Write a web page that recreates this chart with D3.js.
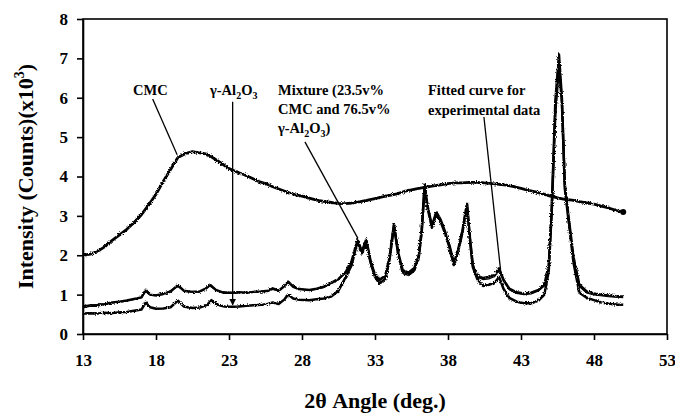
<!DOCTYPE html>
<html>
<head>
<meta charset="utf-8">
<script src="https://cdn.jsdelivr.net/npm/d3@7"></script>
<style>
  body { margin: 0; background: #fff; }
  text { font-family: "Liberation Serif", "Times New Roman", serif; font-weight: bold; fill: #000; }
  .axis path, .axis line { stroke: #000; stroke-width: 1.6; }
  .axis text { font-size: 17px; }
</style>
</head>
<body>
<div id="chart"></div>
<script>
// x axis ticks
const xTicks = [13, 18, 23, 28, 33, 38, 43, 48, 53];
const yTicks = [0, 1, 2, 3, 4, 5, 6, 7, 8];

// CMC (amorphous hump)
const cmcAngle = [13, 13.5, 14, 14.5, 15, 15.5, 16, 16.5, 17, 17.5, 18, 18.5, 19, 19.5, 20, 20.5, 21, 21.5, 22, 22.5,
  23, 23.5, 24, 24.5, 25, 25.5, 26, 26.5, 27, 27.5, 28, 28.5, 29, 29.5, 30, 30.5, 31, 31.5, 32, 32.5,
  33, 33.5, 34, 34.5, 35, 35.5, 36, 36.5, 37, 37.5, 38, 38.5, 39, 39.5, 40, 40.5, 41, 41.5, 42, 42.5,
  43, 43.5, 44, 44.5, 45, 45.5, 46, 46.5, 47, 47.5, 48, 48.5, 49, 49.5, 50];
const cmcValue = [2.00, 2.03, 2.10, 2.22, 2.38, 2.52, 2.66, 2.83, 3.03, 3.28, 3.55, 3.88, 4.18, 4.48, 4.58, 4.63, 4.60, 4.57, 4.45, 4.33,
  4.20, 4.12, 4.05, 3.97, 3.88, 3.82, 3.74, 3.67, 3.60, 3.54, 3.50, 3.45, 3.40, 3.37, 3.34, 3.32, 3.31, 3.33, 3.36, 3.40,
  3.44, 3.48, 3.52, 3.56, 3.62, 3.66, 3.70, 3.73, 3.76, 3.79, 3.82, 3.84, 3.84, 3.85, 3.85, 3.84, 3.82, 3.80, 3.78, 3.74,
  3.70, 3.65, 3.61, 3.56, 3.50, 3.46, 3.42, 3.40, 3.36, 3.33, 3.30, 3.25, 3.20, 3.14, 3.10];

// gamma-Al2O3 (lower curve)
const gammaAngle = [13, 13.5, 14, 14.5, 15, 15.5, 16, 16.5, 17, 17.3, 17.6, 18, 18.5, 19, 19.5, 19.9, 20.5, 21, 21.5, 21.8,
  22.2, 22.7, 23.2, 23.7, 24.2, 24.7, 25.2, 25.7, 26, 26.4, 26.8, 27.05, 27.4, 27.8, 28.5, 29, 29.5, 30, 30.5, 31,
  31.4, 31.8, 32.1, 32.4, 32.7, 33, 33.3, 33.7, 34, 34.3, 34.6, 34.9, 35.3, 35.7, 36, 36.2, 36.4, 36.6, 36.9, 37.2,
  37.5, 37.8, 38.1, 38.4, 38.7, 39, 39.3, 39.5, 39.7, 40, 40.4, 40.8, 41.2, 41.5, 41.8, 42.2, 42.7, 43.2, 43.7, 44.2,
  44.6, 44.9, 45.1, 45.35, 45.6, 45.8, 46, 46.25, 46.6, 47, 47.5, 48, 48.5, 49, 49.5, 50];
const gammaValue = [0.52, 0.53, 0.52, 0.54, 0.53, 0.55, 0.56, 0.59, 0.62, 0.80, 0.68, 0.64, 0.65, 0.68, 0.85, 0.70, 0.66, 0.67, 0.74, 0.86,
  0.74, 0.70, 0.69, 0.70, 0.72, 0.73, 0.74, 0.77, 0.80, 0.76, 0.88, 1.00, 0.90, 0.87, 0.86, 0.88, 0.90, 0.95, 1.10, 1.45,
  1.75, 2.35, 2.05, 2.35, 1.80, 1.45, 1.28, 1.40, 1.90, 2.75, 2.00, 1.55, 1.50, 1.62, 1.95, 2.60, 3.80, 3.20, 2.70, 3.05,
  2.85, 2.55, 2.20, 1.75, 2.10, 2.60, 3.30, 2.40, 1.70, 1.40, 1.22, 1.25, 1.30, 1.45, 1.15, 0.92, 0.82, 0.78, 0.78, 0.85,
  1.00, 1.60, 3.10, 5.90, 7.10, 6.00, 3.70, 2.90, 1.80, 1.05, 0.92, 0.86, 0.80, 0.77, 0.75, 0.74];

// mixture (upper curve)
const mixAngle = [13, 13.5, 14, 14.5, 15, 15.5, 16, 16.5, 17, 17.3, 17.6, 18, 18.5, 19, 19.5, 19.9, 20.5, 21, 21.4, 21.7,
  22.1, 22.6, 23.2, 23.7, 24.2, 24.7, 25.2, 25.7, 26, 26.4, 26.8, 27.05, 27.4, 27.8, 28.5, 29, 29.5, 30, 30.5, 31,
  31.4, 31.8, 32.1, 32.4, 32.7, 33, 33.3, 33.7, 34, 34.3, 34.6, 34.9, 35.3, 35.7, 36, 36.2, 36.4, 36.6, 36.9, 37.2,
  37.5, 37.8, 38.1, 38.4, 38.7, 39, 39.3, 39.5, 39.7, 40, 40.4, 40.8, 41.2, 41.5, 41.8, 42.2, 42.7, 43.2, 43.7, 44.2,
  44.6, 44.9, 45.1, 45.35, 45.6, 45.8, 46, 46.25, 46.6, 47, 47.5, 48, 48.5, 49, 49.5, 50];
const mixValue = [0.68, 0.72, 0.72, 0.76, 0.80, 0.82, 0.85, 0.89, 0.93, 1.12, 1.00, 0.98, 1.02, 1.08, 1.24, 1.10, 1.07, 1.08, 1.15, 1.25,
  1.12, 1.05, 1.05, 1.06, 1.05, 1.07, 1.08, 1.10, 1.16, 1.10, 1.22, 1.33, 1.20, 1.14, 1.12, 1.15, 1.20, 1.30, 1.40, 1.58,
  1.85, 2.40, 2.10, 2.40, 1.85, 1.50, 1.38, 1.48, 1.95, 2.78, 2.05, 1.62, 1.56, 1.68, 2.00, 2.65, 3.75, 3.25, 2.75, 3.10,
  2.90, 2.60, 2.25, 1.80, 2.15, 2.65, 3.30, 2.45, 1.75, 1.48, 1.42, 1.45, 1.50, 1.67, 1.38, 1.15, 1.06, 1.03, 1.05, 1.12,
  1.25, 1.75, 3.10, 5.60, 6.80, 5.90, 3.80, 3.00, 1.95, 1.25, 1.08, 1.03, 1.00, 0.98, 0.96, 0.95];

// fitted curve for experimental data
const fitAngle = [13, 14, 15, 16, 17, 17.3, 17.6, 18.5, 19.5, 20, 21, 21.7, 22.2, 23.5, 25, 26, 26.4, 27.05, 27.6, 28.5,
  29.5, 30.5, 31, 31.4, 31.8, 32.1, 32.4, 32.7, 33, 33.3, 33.7, 34, 34.3, 34.6, 34.9, 35.3, 35.7, 36, 36.2, 36.4,
  36.6, 36.9, 37.2, 37.5, 37.8, 38.1, 38.4, 38.7, 39, 39.3, 39.5, 39.7, 40, 40.4, 40.8, 41.2, 41.5, 41.8, 42.2, 42.7,
  43.2, 43.7, 44.2, 44.6, 44.9, 45.1, 45.35, 45.6, 45.8, 46, 46.25, 46.6, 47, 47.5, 48, 49, 50];
const fitValue = [0.72, 0.75, 0.79, 0.84, 0.92, 1.08, 0.98, 1.00, 1.20, 1.08, 1.07, 1.22, 1.09, 1.04, 1.07, 1.13, 1.09, 1.30, 1.16, 1.10,
  1.18, 1.38, 1.55, 1.82, 2.36, 2.08, 2.36, 1.83, 1.48, 1.35, 1.46, 1.92, 2.74, 2.02, 1.60, 1.54, 1.66, 1.98, 2.62, 3.78,
  3.22, 2.72, 3.08, 2.88, 2.58, 2.22, 1.78, 2.12, 2.62, 3.28, 2.42, 1.72, 1.45, 1.38, 1.40, 1.46, 1.62, 1.34, 1.12, 1.03,
  1.00, 1.02, 1.09, 1.22, 1.72, 3.08, 5.75, 6.95, 5.95, 3.75, 2.95, 1.90, 1.20, 1.04, 0.99, 0.95, 0.92];

const W = 675, H = 416;
const margin = {top: 19, right: 8, bottom: 82, left: 83};
const width = W - margin.left - margin.right;
const height = H - margin.top - margin.bottom;

const xScale = d3.scaleLinear().domain([13, 53]).range([0, width]);
const yScale = d3.scaleLinear().domain([0, 8]).range([height, 0]);

const svg = d3.select("#chart").append("svg")
    .attr("width", W)
    .attr("height", H);

const defs = svg.append("defs");
defs.append("marker")
    .attr("id", "arrow")
    .attr("viewBox", "0 0 10 10")
    .attr("refX", 9).attr("refY", 5)
    .attr("markerWidth", 7).attr("markerHeight", 7)
    .attr("markerUnits", "userSpaceOnUse")
    .attr("orient", "auto")
    .append("path").attr("d", "M0,0 L10,5 L0,10 z").attr("fill", "#000");

// rough look of noisy diffraction traces
const f = defs.append("filter").attr("id", "rough")
    .attr("filterUnits", "userSpaceOnUse")
    .attr("x", 0).attr("y", 0).attr("width", W).attr("height", H);
f.append("feTurbulence").attr("type", "fractalNoise").attr("baseFrequency", "0.9").attr("numOctaves", 1).attr("seed", 3).attr("result", "n");
f.append("feDisplacementMap").attr("in", "SourceGraphic").attr("in2", "n").attr("scale", 3.5)
    .attr("xChannelSelector", "R").attr("yChannelSelector", "G");

const g = svg.append("g")
    .attr("transform", "translate(" + margin.left + "," + margin.top + ")");

// frame
g.append("rect")
    .attr("width", width).attr("height", height)
    .attr("fill", "none").attr("stroke", "#000").attr("stroke-width", 1.6);

g.append("g")
    .attr("class", "x axis")
    .attr("transform", "translate(0," + height + ")")
    .call(d3.axisBottom(xScale).tickValues(xTicks).tickSize(6).tickPadding(14).tickSizeOuter(0))
    .selectAll(".tick:last-of-type text").attr("text-anchor", "end").attr("dx", "0.5em");

g.append("g")
    .attr("class", "y axis")
    .call(d3.axisLeft(yScale).tickValues(yTicks).tickSize(6).tickPadding(9).tickSizeOuter(0));

const line = d3.line()
    .x(d => xScale(d[0]))
    .y(d => yScale(d[1]));

const series = [
  {a: cmcAngle, v: cmcValue, w: 2.8},
  {a: gammaAngle, v: gammaValue, w: 2.5},
  {a: mixAngle, v: mixValue, w: 2.5}
];
const traces = g.append("g").attr("filter", "url(#rough)");
series.forEach(s => {
  traces.append("path")
      .datum(d3.zip(s.a, s.v))
      .attr("fill", "none")
      .attr("stroke", "#000")
      .attr("stroke-width", s.w)
      .attr("stroke-linejoin", "round")
      .attr("d", line);
});
g.append("path")
    .datum(d3.zip(fitAngle, fitValue))
    .attr("fill", "none")
    .attr("stroke", "#000")
    .attr("stroke-width", 1.2)
    .attr("d", line);

// end dot on CMC trace
g.append("circle")
    .attr("cx", xScale(cmcAngle[cmcAngle.length - 1]))
    .attr("cy", yScale(cmcValue[cmcValue.length - 1]))
    .attr("r", 3);

// annotations
const ann = g.append("g").attr("font-size", 14.5);
function leader(x1, y1, x2, y2, arrow) {
  const l = ann.append("line")
      .attr("x1", xScale(x1)).attr("y1", yScale(y1))
      .attr("x2", xScale(x2)).attr("y2", yScale(y2))
      .attr("stroke", "#000").attr("stroke-width", 1.3);
  if (arrow) l.attr("marker-end", "url(#arrow)");
}
leader(17.77, 5.97, 19.45, 4.55);
leader(23.25, 5.9, 23.25, 0.74, true);
leader(28.2, 4.88, 31.83, 2.43);
leader(40.46, 5.51, 41.6, 1.63);

function label(x, y, parts) {
  const t = ann.append("text").attr("x", x - margin.left).attr("y", y - margin.top);
  parts.forEach(p => {
    const s = t.append("tspan").text(p[0]);
    if (p[1] === "sub") s.attr("font-size", 10).attr("dy", 4);
    if (p[1] === "back") s.attr("dy", -4);
  });
  return t;
}
label(133, 95, [["CMC"]]);
label(210, 95, [["γ-Al"], ["2", "sub"], ["O", "back"], ["3", "sub"]]);
label(278, 95, [["Mixture (23.5v%"]]);
label(278, 114, [["CMC and 76.5v%"]]);
label(278, 133, [["γ-Al"], ["2", "sub"], ["O", "back"], ["3", "sub"], [")", "back"]]);
label(428, 95, [["Fitted curve for"]]);
label(428, 115, [["experimental data"]]);

// axis titles
const yt = svg.append("text")
    .attr("transform", "translate(33," + (margin.top + height / 2) + ") rotate(-90)")
    .attr("text-anchor", "middle")
    .attr("font-size", 22);
yt.append("tspan").text("Intensity (Counts)(x10");
yt.append("tspan").text("3").attr("font-size", 14).attr("dy", -9);
yt.append("tspan").text(")").attr("dy", 9);

svg.append("text")
    .attr("x", margin.left + width / 2)
    .attr("y", 408)
    .attr("text-anchor", "middle")
    .attr("font-size", 22)
    .text("2θ Angle (deg.)");
</script>
</body>
</html>
